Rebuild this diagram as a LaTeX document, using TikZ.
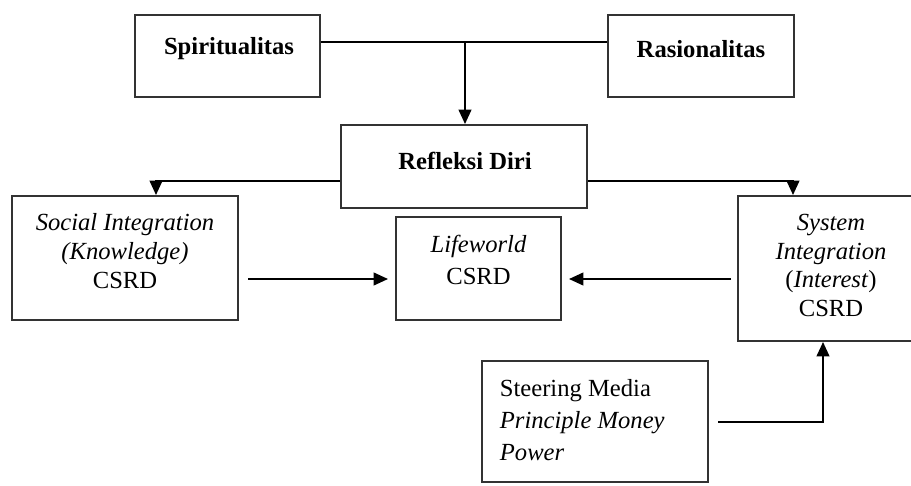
\documentclass[tikz,border=0pt]{standalone}
\usepackage{fontspec}
\setmainfont{Liberation Serif}
\usetikzlibrary{arrows.meta}
\newcommand{\pxu}{0.025cm}
\tikzset{
  box/.style={draw=black!80, line width=1.4pt, inner sep=0pt},
  lbl/.style={inner sep=0pt, align=center, font=\fontsize{17.5}{20.5}\selectfont},
}
\begin{document}
\begin{tikzpicture}[x=\pxu, y=-\pxu, line width=1.3pt,
    >={Triangle[length=0.36cm, width=0.32cm]}]
      \useasboundingbox (0,0) rectangle (911,485);
      \clip (0,0) rectangle (911,485);
      \node[box, minimum width=4.625cm, minimum height=2.05cm] (spirit) at (227.5,56) {};
      \node[box, minimum width=4.65cm, minimum height=2.05cm] (rasio) at (701,56) {};
      \node[box, minimum width=6.15cm, minimum height=2.075cm] (refl) at (464,166.5) {};
      \node[box, minimum width=5.65cm, minimum height=3.1cm] (social) at (125,258) {};
      \node[box, minimum width=4.125cm, minimum height=2.575cm] (life) at (478.5,268.5) {};
      \node[box, minimum width=4.65cm, minimum height=3.625cm] (system) at (831,268.5) {};
      \node[box, minimum width=5.65cm, minimum height=3.025cm] (steer) at (595,421.5) {};
      \node[lbl] (spirit-t) at (229,49) {\bfseries Spiritualitas};
      \node[lbl] (rasio-t) at (701,49) {\bfseries Rasionalitas};
      \node[lbl] (refl-t) at (465,161) {\bfseries Refleksi Diri};
      \node[lbl] (social-t) at (125,251) {\textit{Social Integration}\\\textit{(Knowledge)}\\CSRD};
      \node[lbl, font=\fontsize{17.5}{22.5}\selectfont] (life-t) at (478.5,260) {\textit{Lifeworld}\\CSRD};
      \node[lbl] (system-t) at (831,265.5) {\textit{System}\\\textit{Integration}\\(\textit{Interest})\\CSRD};
      \node[lbl, align=left, anchor=west, font=\fontsize{17.5}{22.5}\selectfont] (steer-t) at (499,420) {Steering Media\\\textit{Principle Money}\\\textit{Power}};
      \coordinate (join) at (465,42);
      \coordinate (lknee) at (156,181);
      \coordinate (rknee) at (793,181);
      \coordinate (midrow) at (0,279);
      \coordinate (sknee) at (823,422);
      \draw (spirit.east |- join) -- (rasio.west |- join);
      \draw[->] (join) -- (join |- refl.north);
      \draw[->] (refl.west |- lknee) -| (lknee |- social.north);
      \draw[->] (refl.east |- rknee) -| (rknee |- system.north);
      \draw[->, shorten <=0.225cm, shorten >=0.175cm] (social.east |- midrow) -- (life.west |- midrow);
      \draw[->, shorten <=0.15cm, shorten >=0.175cm] (system.west |- midrow) -- (life.east |- midrow);
      \draw[->, shorten <=0.225cm] (steer.east |- sknee) -| (sknee |- system.south);
    \end{tikzpicture}
\end{document}
